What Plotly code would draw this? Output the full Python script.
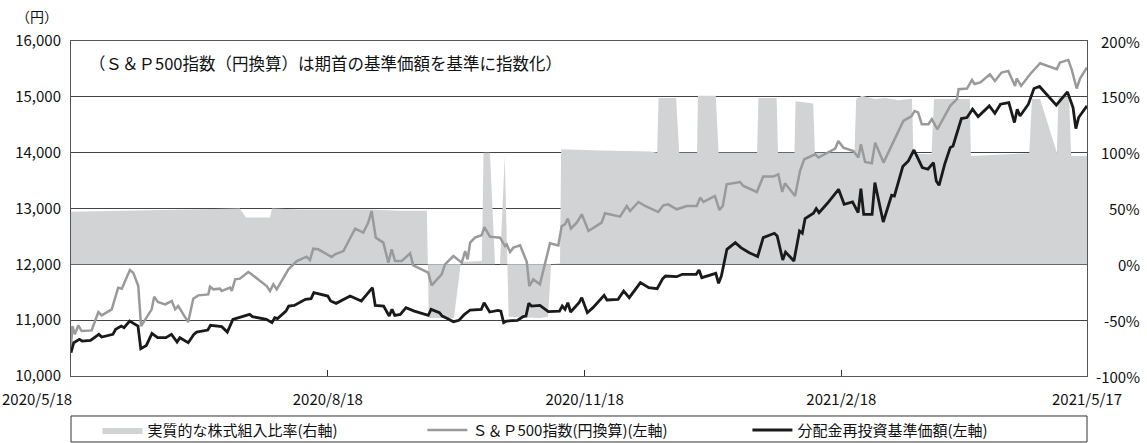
import pandas as pd
import plotly.graph_objects as go

START = "2020-05-18"

# 分配金再投資基準価額 (days since start, yen)
black_day = [0, 1, 3, 4, 7, 10, 11, 15, 16, 18, 19, 21, 24, 25, 27, 29, 31, 34, 36, 38, 39, 42, 44, 45, 49, 50,
             54, 56, 58, 60, 64, 65, 70, 72, 73, 74, 77, 78, 80, 84, 86, 87, 90, 92, 93, 95, 100, 104, 106, 108,
             109, 112, 114, 115, 116, 118, 120, 123, 128, 129, 132, 133, 135, 137, 139, 141, 143, 147, 148, 150,
             153, 154, 155, 156, 160, 162, 163, 164, 165, 168, 171, 175, 176, 177, 178, 179, 182, 183, 185, 187,
             191, 192, 196, 198, 200, 203, 204, 207, 210, 212, 213, 217, 219, 224, 225, 226, 231, 232, 233, 235,
             238, 240, 243, 246, 248, 252, 253, 255, 256, 259, 261, 262, 263, 266, 267, 268, 271, 275, 277, 280,
             282, 283, 284, 287, 288, 291, 294, 295, 298, 300, 302, 303, 305, 307, 309, 310, 311, 313, 315, 316,
             319, 321, 323, 325, 329, 331, 333, 336, 338, 339, 340, 343, 345, 347, 353, 357, 359, 360, 361, 364]
black_val = [10418, 10597, 10656, 10626, 10638, 10745, 10697, 10745, 10835, 10894, 10865, 10984, 10894, 10489,
             10548, 10763, 10686, 10686, 10745, 10608, 10686, 10597, 10745, 10787, 10823, 10907, 10884, 10787,
             11014, 11044, 11104, 11063, 11014, 10955, 11044, 11027, 11163, 11253, 11265, 11373, 11385, 11493,
             11462, 11432, 11343, 11301, 11432, 11343, 11462, 11582, 11265, 11253, 11074, 11194, 11086, 11104,
             11224, 11163, 11086, 11194, 11134, 11074, 11027, 10973, 10998, 11104, 11182, 11194, 11313, 11146,
             11176, 11163, 10955, 10984, 10998, 11063, 11074, 11301, 11253, 11265, 11152, 11163, 11253, 11194,
             11313, 11146, 11313, 11403, 11134, 11224, 11444, 11361, 11373, 11522, 11403, 11611, 11672, 11582,
             11564, 11743, 11791, 11779, 11821, 11821, 11898, 11761, 11839, 11660, 11791, 12269, 12389, 12299,
             12209, 12138, 12478, 12556, 12508, 12077, 12220, 12059, 12597, 12556, 12819, 12914, 12998, 12926,
             13093, 13344, 13075, 13117, 12926, 13355, 12896, 12896, 13464, 12758, 13237, 13224, 13751, 13852,
             14048, 13941, 13733, 13703, 13822, 13493, 13416, 13792, 14091, 14120, 14611, 14629, 14778, 14647,
             14838, 14706, 14868, 14898, 14540, 14778, 14656, 14868, 15149, 15185, 14850, 15089, 14808, 14432,
             14629, 14838]

# S&P500指数(円換算) (days since start, yen)
gray_day = [0, 0.5, 1.4, 2.6, 3.8, 7.4, 9.8, 11, 14.6, 16.9, 18.2, 19.3, 21.1, 22.3, 24.1, 25.1, 27.1, 28.9,
            29.8, 31.1, 33.7, 36.1, 37.3, 38.4, 42, 43.8, 45.6, 49.2, 49.8, 51, 53.4, 54, 57, 57.6, 58.8, 60.5,
            63.5, 64.7, 70.1, 71.3, 72.5, 73.7, 77.9, 80.9, 84.4, 85.6, 86.8, 88.6, 93.4, 94.6, 97.6, 100,
            101.8, 104.7, 106.5, 107.7, 109.2, 111.9, 113.7, 114.9, 116.1, 118.5, 120.3, 121.5, 122.6, 125,
            128, 129.2, 132.8, 134, 137, 140, 141.2, 142.1, 143, 144.7, 147.1, 148.1, 150.1, 153.7, 155.5,
            156.1, 157.3, 158.5, 160.9, 163.3, 164.2, 165.6, 168, 171.6, 174.6, 175.8, 177, 178, 179.1, 181.2,
            183, 185.4, 190.1, 191.3, 196.7, 199.1, 200.3, 203.3, 205.7, 210.4, 212.2, 214, 217, 220.6, 224.2,
            225.4, 226.6, 230.7, 232.3, 233.5, 234.9, 239.7, 240.9, 245.7, 248, 251.6, 253.4, 254.8, 255.8,
            259.4, 261.2, 262.7, 266.6, 267.8, 270.2, 273.8, 274.9, 276.7, 280.3, 282.1, 283, 284.5, 286.9,
            288.1, 291.1, 294.6, 298.2, 301.2, 302.2, 303.5, 304.8, 307.2, 308.4, 310.4, 315, 317.4, 318, 321,
            322.8, 323.7, 325.8, 329.2, 331, 333.4, 335.8, 338.2, 338.8, 340.4, 343.6, 347.2, 353.2, 354.3,
            357.3, 358.5, 360.3, 361.5, 364]
gray_val = [10536, 10894, 10745, 10907, 10805, 10817, 11146, 11086, 11194, 11582, 11564, 11703, 11898, 11851,
            11611, 10894, 11044, 11194, 11421, 11326, 11283, 11343, 11194, 11253, 10966, 11385, 11444, 11462,
            11600, 11552, 11564, 11522, 11582, 11522, 11731, 11743, 11862, 11821, 11611, 11522, 11642, 11552,
            11910, 12059, 12138, 12077, 12281, 12269, 12131, 12179, 12238, 12478, 12639, 12568, 12747, 12955,
            12478, 12389, 12030, 12269, 12059, 12059, 12149, 12197, 11982, 11923, 11851, 11624, 11821, 12000,
            12149, 12030, 12238, 12090, 12389, 12478, 12520, 12668, 12496, 12478, 12328, 12358, 12220, 12299,
            12340, 12042, 11611, 11731, 11642, 12376, 12340, 12686, 12717, 12819, 12639, 12747, 12896, 12597,
            12747, 12914, 12855, 13045, 12955, 13117, 13045, 12937, 13057, 13075, 12986, 13045, 13045, 13195,
            13117, 13224, 12973, 13045, 13434, 13475, 13403, 13296, 13572, 13572, 13613, 13296, 13452, 13224,
            13674, 13882, 13971, 13912, 13971, 14074, 14210, 14091, 14031, 13912, 14150, 13833, 13810, 14180,
            13822, 14180, 14568, 14657, 14747, 14720, 14509, 14509, 14599, 14419, 14838, 14958, 15137, 15149,
            15303, 15229, 15257, 15404, 15285, 15435, 15465, 15196, 15328, 15196, 15404, 15602, 15494, 15614,
            15661, 15494, 15149, 15328, 15525]

# 実質的な株式組入比率 (days since start, %)
ratio_day = [0, 20, 40, 55, 60.5, 62.7, 71.3, 72, 82, 107, 118, 127.5, 128.2, 137.2, 139.7, 147.2, 147.8, 150.1,
             151.9, 153.7, 155.4, 156.8, 168, 170.9, 172, 175.2, 175.6, 189.5, 207.4, 210, 210.5, 216.8, 217.9,
             224.3, 224.6, 231, 232, 245.8, 246.3, 252.8, 253.3, 259.2, 259.6, 265.9, 266.5, 280.7, 281.3,
             283.3, 288.1, 291.7, 296.4, 300.6, 301.3, 301.8, 307.7, 308.3, 309.2, 322, 322.4, 329.2, 338,
             343.3, 344.3, 347.2, 353.2, 353.8, 357.6, 358.3, 364]
ratio_val = [47, 48, 49, 50, 50, 42, 42, 50, 49, 49, 48, 48, -48, -48, 2, 3, 100, 100,
             0, 0, 97, -47, -48, -47, 0, 1, 103, 102, 101, 100, 149, 149, 100,
             100, 151, 151, 100, 100, 149, 149, 100, 100, 146, 144, 100, 100, 148,
             151, 148, 149, 147, 148, 148, 99, 98.5, 98.5, 148, 148, 97, 98, 99,
             99.5, 148, 148, 100, 150, 150, 97, 97]

x_tick_dates = ["2020-05-18", "2020-08-18", "2020-11-18", "2021-02-18", "2021-05-17"]
x_tick_text = ["2020/5/18", "2020/8/18", "2020/11/18", "2021/2/18", "2021/5/17"]
right_ticks = [-100, -50, 0, 50, 100, 150, 200]

name_ratio = "実質的な株式組入比率(右軸)"
name_sp = "Ｓ＆Ｐ500指数(円換算)(左軸)"
name_nav = "分配金再投資基準価額(左軸)"
note = "（Ｓ＆Ｐ500指数（円換算）は期首の基準価額を基準に指数化）"

t0 = pd.Timestamp(START)
def to_dates(days):
    return [t0 + pd.to_timedelta(d, unit="D") for d in days]

FONT = "Noto Sans CJK JP"
fig = go.Figure()
# area on the base (percent) axis so that lines on the overlaying yen axis are drawn above it
fig.add_trace(go.Scatter(x=to_dates(ratio_day), y=ratio_val, yaxis="y", mode="lines",
                         line=dict(width=0, color="#d2d3d5"), fill="tozeroy", fillcolor="#d2d3d5",
                         name=name_ratio, hoverinfo="skip"))
fig.add_trace(go.Scatter(x=to_dates(gray_day), y=gray_val, yaxis="y2", mode="lines",
                         line=dict(width=2.5, color="#9a9a9a"), name=name_sp))
fig.add_trace(go.Scatter(x=to_dates(black_day), y=black_val, yaxis="y2", mode="lines",
                         line=dict(width=2.8, color="#1a1a1a"), name=name_nav))

annotations = [
    dict(text="（円）", xref="paper", yref="paper", x=-0.0335, y=1.075, showarrow=False,
         xanchor="center", yanchor="middle", font=dict(size=14)),
    dict(text=note, xref="paper", yref="y2", x=0.016, y=15600, showarrow=False,
         xanchor="left", yanchor="middle", font=dict(size=16.5)),
    dict(text=x_tick_text[0], xref="x", yref="paper", x=x_tick_dates[0], y=-0.066, xshift=3,
         showarrow=False, xanchor="right", yanchor="middle", font=dict(size=15)),
]
for v in right_ticks:
    annotations.append(dict(text=f"{v}%", xref="paper", yref="y", x=1, y=v, xshift=55,
                            showarrow=False, xanchor="right", yanchor="middle", font=dict(size=15)))

fig.update_layout(
    width=1147, height=443, autosize=False,
    margin=dict(l=71, r=60, t=41, b=67),
    paper_bgcolor="white", plot_bgcolor="white",
    font=dict(family=FONT, color="#111", size=15),
    showlegend=True,
    legend=dict(orientation="h", x=0.026, xanchor="left", xref="paper",
                y=0.066, yanchor="top", yref="container",
                font=dict(size=15), bgcolor="rgba(0,0,0,0)", entrywidth=270,
                itemwidth=40, tracegroupgap=0),
    xaxis=dict(type="date", range=[x_tick_dates[0], x_tick_dates[-1]],
               tickvals=x_tick_dates, ticktext=[""] + x_tick_text[1:],
               showgrid=False, showline=True, linecolor="#555", linewidth=1, mirror=True,
               ticks="inside", ticklen=6, tickcolor="#333", tickfont=dict(size=15), zeroline=False,
               ticklabelstandoff=10, automargin=False),
    yaxis=dict(range=[-100, 200], side="right", showgrid=False,
               showticklabels=False, zeroline=False, showline=False),
    yaxis2=dict(range=[10000, 16000], dtick=1000, tickformat=",", overlaying="y", side="left",
                showgrid=True, gridcolor="#444", gridwidth=1, showline=True, linecolor="#555",
                linewidth=1, mirror=True, ticks="", tickfont=dict(size=15), zeroline=False,
                ticklabelstandoff=6),
    annotations=annotations,
    shapes=[dict(type="rect", xref="paper", yref="paper", x0=0, x1=1, y0=-0.1194, y1=-0.197,
                 line=dict(color="#333", width=1), fillcolor="rgba(0,0,0,0)")],
)

fig.write_html("out.html", config={"displayModeBar": False},
               post_script="document.body.style.margin='0';")
